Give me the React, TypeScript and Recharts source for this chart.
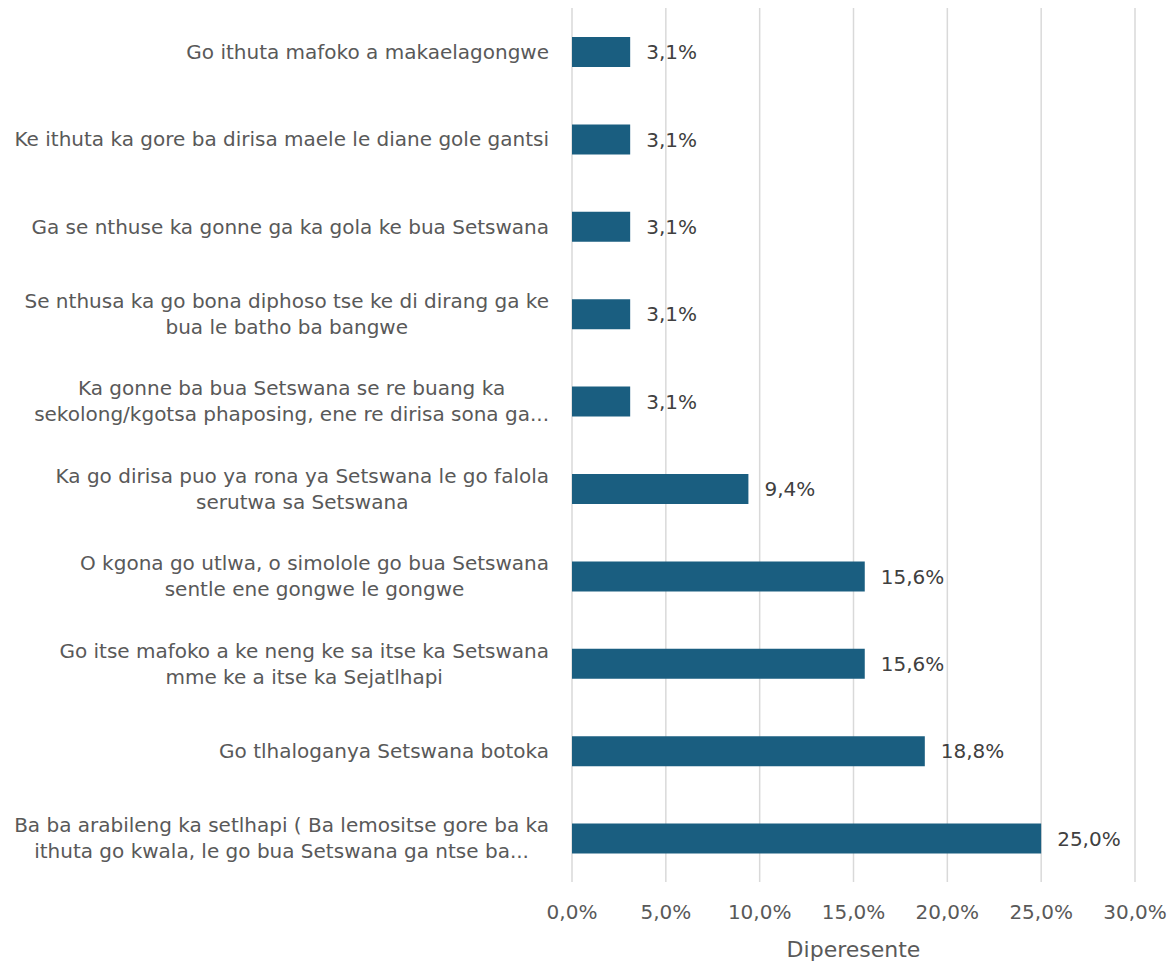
import React from 'react';
import { BarChart, Bar, XAxis, YAxis, CartesianGrid, LabelList } from 'recharts';

const categories = [
  'Go ithuta mafoko a makaelagongwe',
  'Ke ithuta ka gore ba dirisa maele le diane gole gantsi',
  'Ga se nthuse ka gonne ga ka gola ke bua Setswana',
  'Se nthusa ka go bona diphoso tse ke di dirang ga ke\nbua le batho ba bangwe',
  'Ka gonne ba bua Setswana se re buang ka\nsekolong/kgotsa phaposing, ene re dirisa sona ga...',
  'Ka go dirisa puo ya rona ya Setswana le go falola\nserutwa sa Setswana',
  'O kgona go utlwa, o simolole go bua Setswana\nsentle ene gongwe le gongwe',
  'Go itse mafoko a ke neng ke sa itse ka Setswana\nmme ke a itse ka Sejatlhapi',
  'Go tlhaloganya Setswana botoka',
  'Ba ba arabileng ka setlhapi ( Ba lemositse gore ba ka\nithuta go kwala, le go bua Setswana ga ntse ba...',
];

const percents = [3.1, 3.1, 3.1, 3.1, 3.1, 9.4, 15.6, 15.6, 18.8, 25.0];

const xTicks = [0, 5, 10, 15, 20, 25, 30];

const data = categories.map((name, i) => ({ name, value: percents[i] }));

const FONT = '"DejaVu Sans", sans-serif';
const fmt = (v: number) => v.toFixed(1).replace('.', ',') + '%';

let canvasCtx: CanvasRenderingContext2D | null = null;
function textWidth(s: string, size: number) {
  if (!canvasCtx) canvasCtx = document.createElement('canvas').getContext('2d');
  if (!canvasCtx) return s.length * size * 0.55;
  canvasCtx.font = `${size}px "DejaVu Sans"`;
  return canvasCtx.measureText(s).width;
}

function CategoryTick({ x, y, payload }: any) {
  const lines = String(payload.value).split('\n');
  const maxW = Math.max(...lines.map(l => textWidth(l, 20)));
  const cx = x - maxW / 2;
  const lineH = 26;
  const top = y - ((lines.length - 1) * lineH) / 2;
  return (
    <g>
      {lines.map((l, i) => (
        <text key={i} x={cx} y={top + i * lineH} dy="0.35em" textAnchor="middle"
          fill="#595959" fontSize={20} fontFamily={FONT}>
          {l}
        </text>
      ))}
    </g>
  );
}

export default function App() {
  return (
    <div style={{ position: 'absolute', left: 0, top: 0, width: 1175, height: 967, background: '#fff' }}>
      <BarChart width={1175} height={967} data={data} layout="vertical"
        margin={{ top: 8, right: 40, left: 0, bottom: 0 }} barSize={30}>
        <CartesianGrid horizontal={false} stroke="#d9d9d9" strokeWidth={1.5} />
        <XAxis type="number" domain={[0, 30]} ticks={xTicks} tickFormatter={fmt}
          axisLine={false} tickLine={false} height={85} tickMargin={17}
          tick={{ fill: '#595959', fontSize: 20, fontFamily: FONT }}
          label={{ value: 'Diperesente', position: 'insideBottom', offset: 10, fill: '#595959', fontSize: 22, fontFamily: FONT }} />
        <YAxis type="category" dataKey="name" width={572} axisLine={false} tickLine={false}
          tickMargin={17} interval={0} tick={<CategoryTick />} />
        <Bar dataKey="value" fill="#1a5e80" isAnimationActive={false}>
          <LabelList dataKey="value" position="right" offset={16} formatter={(v: any) => fmt(Number(v))}
            fill="#404040" fontSize={20} fontFamily={FONT} />
        </Bar>
      </BarChart>
    </div>
  );
}
